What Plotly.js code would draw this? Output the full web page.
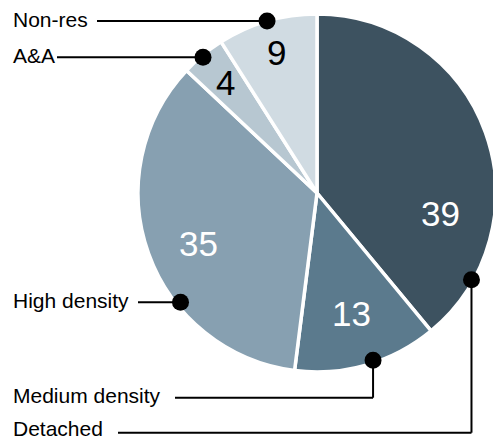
<!DOCTYPE html>
<html>
<head>
<meta charset="utf-8">
<script src="https://cdn.plot.ly/plotly-3.0.1.min.js"></script>
<style>
  html, body { margin: 0; padding: 0; overflow: hidden; background: #ffffff; }
  #chart { width: 500px; height: 440px; }
</style>
</head>
<body>
<div id="chart"></div>
<script>
// Dwelling type shares (%)
const categories = ['Detached', 'Medium density', 'High density', 'A&A', 'Non-res'];
const shares = [39, 13, 35, 4, 9];
const sliceColors = ['#3d5260', '#5b7a8d', '#87a0b1', '#b7c7d1', '#d0dbe2'];
const valueColors = ['#ffffff', '#ffffff', '#ffffff', '#000000', '#000000'];

// Canvas and pie geometry (pixels)
const W = 500, H = 440;
const CX = 317, CY = 193, R = 179;

// Placement of the value labels: angle shift (deg) from slice middle, radius fraction
const valueShift = [29, 0, -3.5, 0, 0];
const valueRadius = [0.70, 0.70, 0.72, 0.80, 0.82];

// Placement of the leader dots: fraction along the slice, radius fraction
const dotAlong = [0.85, 0.45, 0.35, 0.47, 0.5];
const dotRadius = [0.99, 0.985, 0.977, 0.99, 1.0];
// Row of the category name (null = same height as the dot), where its line begins,
// and a small vertical nudge of the name text
const nameRow = [432.7, 397.7, null, null, null];
const lineStart = [118, 175, 138, 57, 97];
const nameNudge = [-4, -2.5, -2, -2, -2];

const px = x => x / W;
const py = y => 1 - y / H;
const total = shares.reduce((a, b) => a + b, 0);

function polar(angleDeg, r) {
  const t = angleDeg * Math.PI / 180;
  return [CX + r * Math.sin(t), CY - r * Math.cos(t)];
}

const shapes = [];
const annotations = [];
let cum = 0;
shares.forEach((v, i) => {
  const a0 = cum / total * 360;
  const a1 = (cum + v) / total * 360;
  cum += v;
  const mid = (a0 + a1) / 2;

  // value inside the slice
  const [tx, ty] = polar(mid + valueShift[i], R * valueRadius[i]);
  annotations.push({
    xref: 'paper', yref: 'paper', x: px(tx), y: py(ty),
    xanchor: 'center', yanchor: 'middle', showarrow: false,
    text: String(v),
    font: { family: 'Liberation Sans, Arial, sans-serif', size: 35, color: valueColors[i] }
  });

  // leader dot on the slice
  const [dx, dy] = polar(a0 + (a1 - a0) * dotAlong[i], R * dotRadius[i]);
  const rowY = nameRow[i] === null ? dy : nameRow[i];
  const line = { color: '#000000', width: 2 };
  shapes.push({ type: 'line', xref: 'paper', yref: 'paper',
    x0: px(lineStart[i]), y0: py(rowY), x1: px(dx), y1: py(rowY), line });
  if (nameRow[i] !== null) {
    shapes.push({ type: 'line', xref: 'paper', yref: 'paper',
      x0: px(dx), y0: py(rowY), x1: px(dx), y1: py(dy), line });
  }
  const dr = 8.5;
  shapes.push({ type: 'circle', xref: 'paper', yref: 'paper',
    x0: px(dx - dr), x1: px(dx + dr), y0: py(dy + dr), y1: py(dy - dr),
    fillcolor: '#000000', line: { width: 0 } });

  // category name
  annotations.push({
    xref: 'paper', yref: 'paper', x: px(11), y: py(rowY + nameNudge[i]),
    xanchor: 'left', yanchor: 'middle', showarrow: false,
    text: categories[i],
    font: { family: 'Liberation Sans, Arial, sans-serif', size: 21, color: '#000000' }
  });
});

const trace = {
  type: 'pie',
  labels: categories,
  values: shares,
  sort: false,
  direction: 'clockwise',
  rotation: 0,
  textinfo: 'none',
  hoverinfo: 'label+value',
  marker: { colors: sliceColors, line: { color: '#ffffff', width: 3.5 } },
  domain: { x: [px(CX - R), px(CX + R)], y: [py(CY + R), py(CY - R)] },
  showlegend: false
};

const layout = {
  width: W, height: H,
  margin: { l: 0, r: 0, t: 0, b: 0, pad: 0 },
  paper_bgcolor: '#ffffff',
  showlegend: false,
  shapes: shapes,
  annotations: annotations
};

Plotly.newPlot('chart', [trace], layout, { displayModeBar: false, staticPlot: true });
</script>
</body>
</html>
